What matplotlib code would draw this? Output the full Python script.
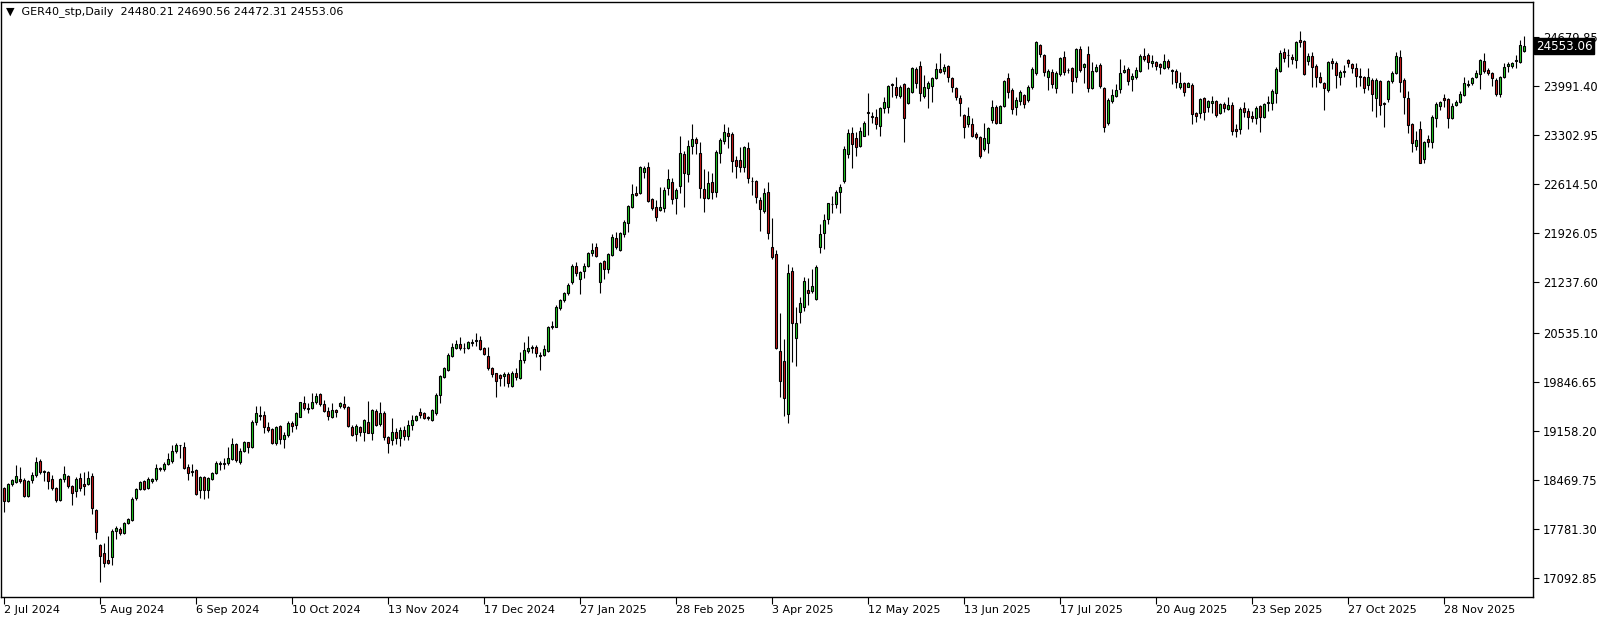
import matplotlib
matplotlib.use("Agg")
import matplotlib.pyplot as plt
import matplotlib.transforms as mtransforms
import numpy as np

symbol_title = "GER40_stp,Daily"

date_labels = ["2 Jul 2024", "5 Aug 2024", "6 Sep 2024", "10 Oct 2024", "13 Nov 2024",
               "17 Dec 2024", "27 Jan 2025", "28 Feb 2025", "3 Apr 2025", "12 May 2025",
               "13 Jun 2025", "17 Jul 2025", "20 Aug 2025", "23 Sep 2025", "27 Oct 2025",
               "28 Nov 2025"]
date_label_bars = [0, 24, 48, 72, 96, 120, 144, 168, 192, 216, 240, 264, 288, 312, 336, 360]

price_ticks = [24679.85, 23991.40, 23302.95, 22614.50, 21926.05, 21237.60,
               20535.10, 19846.65, 19158.20, 18469.75, 17781.30, 17092.85]

opens = [
18353,18166,18409,18446,18479,18469,18245,18469,18540,18736,18577,18586,18479,18357,18189,18488,
18526,18385,18311,18493,18413,18409,18526,18049,17553,17441,17347,17394,17745,17782,17717,17862,
17913,18208,18348,18455,18353,18460,18479,18633,18619,18694,18727,18867,18960,18928,18647,18596,
18610,18320,18516,18329,18479,18563,18689,18698,18703,18764,18970,18726,18876,18998,18923,19287,
19381,19381,19208,19185,18983,19227,19040,19100,19264,19241,19357,19544,19474,19474,19559,19675,
19530,19437,19357,19442,19498,19530,19488,19208,19110,19208,19147,19287,19124,19428,19250,19404,
19068,19028,19141,19057,19169,19085,19239,19310,19427,19403,19347,19310,19413,19661,19908,20011,
20212,20324,20376,20315,20315,20395,20418,20432,20315,20208,20035,19964,19941,19932,19955,19792,
19964,19904,20151,20278,20320,20339,20217,20222,20282,20614,20619,20876,20990,21090,21240,21469,
21282,21404,21469,21647,21731,21249,21539,21422,21623,21857,21694,21918,22077,22301,22498,22498,
22792,22862,22404,22301,22254,22287,22558,22642,22418,22596,23040,22755,23157,23246,23049,22544,
22428,22642,22512,23049,23227,23339,23316,22956,22956,22862,23119,22666,22661,22395,22245,22502,
21730,21632,20276,20136,19388,21403,20463,20819,20889,21132,21122,21006,21730,21927,22123,22343,
22333,22502,22665,23034,23329,23259,23156,23296,23624,23567,23553,23436,23680,23694,24021,23974,
23857,24016,23750,23913,24227,24273,23857,23969,23998,24100,24227,24208,24273,24100,23960,23820,
23586,23455,23455,23315,23273,23104,23188,23516,23693,23478,23712,24100,23937,23693,23787,23866,
23796,23974,24180,24568,24427,24114,24194,23960,24156,24395,24222,24240,24114,24512,24254,24437,
23960,24208,24287,23960,23469,23787,23852,23946,24194,24226,24086,24114,24208,24413,24427,24320,
24325,24296,24240,24343,24212,24203,23983,24039,23983,24007,23619,23609,23829,23693,23759,23782,
23609,23740,23670,23726,23390,23385,23679,23642,23572,23539,23712,23553,23749,23749,23890,24208,
24465,24432,24395,24357,24638,24624,24348,24413,24273,24124,24039,23937,24343,24310,24114,24189,
24357,24301,24240,24128,24124,24007,24077,23820,24063,23754,23806,24067,24170,24404,24077,23820,
23455,23156,23385,22964,23245,23212,23549,23717,23820,23810,23539,23726,23764,23866,24007,24030,
24114,24156,24343,24217,24170,24077,23880,24114,24273,24278,24348,24334,24480.21]

highs = [
18376,18423,18479,18680,18656,18493,18469,18586,18787,18759,18610,18596,18540,18376,18493,18666,
18540,18399,18507,18572,18586,18596,18572,18058,17567,17581,17684,17778,17824,17806,17885,17941,
18222,18362,18455,18469,18507,18493,18694,18656,18713,18844,18960,18984,18962,19007,18689,18689,
18619,18525,18525,18507,18586,18740,18740,18773,18937,19054,18984,18913,19021,19007,19311,19507,
19507,19428,19287,19194,19227,19241,19147,19297,19297,19414,19568,19647,19544,19685,19685,19694,
19591,19488,19554,19460,19563,19647,19507,19241,19250,19227,19320,19577,19460,19460,19559,19428,
19086,19337,19197,19209,19225,19309,19379,19380,19474,19427,19366,19460,19684,19941,20058,20245,
20385,20432,20469,20395,20423,20441,20526,20488,20339,20339,20058,19974,19955,19988,19988,20002,
20035,20268,20409,20488,20362,20362,20268,20362,20628,20703,20923,21000,21110,21230,21497,21521,
21399,21507,21661,21787,21787,21530,21549,21656,21918,21941,21941,22114,22325,22619,22591,22872,
22872,22923,22418,22395,22572,22572,22825,22699,22558,23292,23087,23236,23461,23274,23204,22825,
22802,22769,23096,23260,23461,23414,23344,23017,23133,23152,23204,22722,22675,22442,22558,22652,
22137,21693,20804,20440,21496,21450,20898,21038,21309,21305,21422,21478,22057,22198,22357,22455,
22534,22618,23151,23390,23413,23343,23413,23502,23899,23633,23670,23703,23843,24007,24040,24114,
24007,24030,23984,24264,24255,24343,24147,24068,24114,24320,24451,24301,24287,24114,23984,23867,
23600,23703,23549,23352,23291,23469,23422,23796,23726,23726,24077,24170,23960,23843,23937,23880,
24007,24264,24624,24582,24437,24226,24226,24203,24404,24488,24240,24254,24521,24554,24320,24554,
24334,24301,24310,23983,23820,23946,24021,24367,24287,24264,24180,24254,24437,24521,24451,24427,
24343,24320,24441,24367,24226,24226,24194,24053,24053,24030,23633,23820,23843,23796,23852,23796,
23750,23773,23843,23773,23460,23693,23773,23679,23647,23712,23726,23759,23852,23946,24264,24498,
24521,24507,24437,24628,24764,24638,24460,24474,24301,24194,24053,24348,24381,24348,24217,24287,
24367,24320,24310,24240,24133,24240,24100,24100,24077,23773,24077,24203,24474,24498,24100,23923,
23478,23366,23506,23221,23305,23586,23773,23782,23880,23820,23749,23796,23927,24124,24077,24124,
24217,24367,24451,24240,24194,24100,24133,24320,24334,24334,24427,24638,24690.56]

lows = [
18025,18152,18390,18423,18432,18226,18226,18423,18507,18549,18460,18343,18329,18152,18166,18446,
18353,18110,18226,18306,18259,18395,17988,17637,17030,17245,17291,17277,17637,17689,17712,17852,
17899,18189,18329,18329,18343,18423,18460,18600,18600,18680,18703,18844,18773,18619,18469,18526,
18259,18212,18198,18212,18469,18553,18609,18619,18680,18750,18726,18689,18853,18843,18913,19241,
19311,19124,19147,18974,18955,18974,18913,19077,19147,19180,19348,19451,19404,19460,19535,19507,
19414,19311,19334,19357,19474,19460,19217,19086,19016,19091,19021,19124,19030,19227,19227,19030,
18843,18958,18972,18944,19028,19028,19169,19301,19333,19319,19310,19301,19380,19553,19894,19997,
20198,20301,20292,20254,20301,20353,20353,20292,20222,20011,19918,19637,19787,19787,19768,19778,
19871,19890,20105,20245,20245,20189,20011,20208,20268,20582,20610,20850,20960,21060,21212,21334,
21072,21296,21460,21614,21591,21086,21282,21376,21609,21703,21684,21871,21951,22287,22451,22479,
22699,22371,22254,22105,22245,22231,22465,22339,22194,22498,22301,22652,23035,23035,22428,22222,
22404,22404,22442,22909,23175,23119,22792,22699,22792,22792,22638,22465,22357,21965,22208,21843,
21562,20300,19626,19365,19271,20127,20071,20674,20842,20921,21085,20992,21655,21707,22057,22216,
22286,22216,22637,22988,22838,23016,23142,23292,23306,23479,23385,23296,23610,23619,23843,23820,
23829,23212,23740,23899,23969,23782,23820,23689,23773,24086,24171,24161,24054,23913,23797,23572,
23259,23422,23282,23245,22988,23086,23058,23469,23460,23469,23693,23820,23600,23586,23726,23679,
23764,23946,24147,24404,24133,23937,23960,23899,24133,24147,24170,23899,24044,24194,24039,23913,
23946,24184,23960,23352,23446,23759,23843,23890,24170,24007,23927,24086,24194,24348,24226,24264,
24217,24156,24226,24226,24016,23960,23946,23857,23974,23460,23492,23539,23516,23623,23619,23553,
23600,23633,23656,23305,23273,23319,23562,23390,23492,23460,23352,23539,23642,23656,23749,24194,
24325,24254,24301,24250,24535,24147,24287,23974,23983,24030,23656,23913,24230,23960,24007,24124,
24254,24170,23983,23993,23890,23937,23647,23562,23586,23422,23773,24039,24161,23913,23595,23329,
23072,23095,22908,22908,23142,23118,23422,23656,23693,23408,23525,23717,23759,23852,23974,24007,
24100,23946,24170,24147,23993,23857,23834,24100,24184,24240,24240,24310,24472.31]

closes = [
18166,18409,18469,18526,18460,18245,18455,18540,18717,18577,18596,18460,18353,18180,18479,18554,
18385,18282,18484,18353,18385,18493,18072,17731,17408,17310,17310,17754,17796,17717,17862,17923,
18203,18343,18437,18343,18484,18479,18633,18619,18694,18759,18876,18960,18955,18633,18563,18582,
18268,18507,18320,18493,18563,18703,18703,18708,18773,18970,18750,18876,18998,18923,19287,19404,
19367,19208,19170,18983,19208,19040,19100,19273,19231,19404,19559,19474,19460,19559,19647,19530,
19428,19367,19442,19414,19544,19488,19231,19100,19231,19147,19311,19133,19451,19241,19404,19077,
18993,19141,19057,19169,19085,19239,19309,19366,19380,19333,19338,19450,19661,19927,20035,20222,
20329,20376,20315,20324,20404,20404,20427,20301,20236,20035,19955,19862,19894,19950,19834,19964,
19908,20151,20292,20324,20329,20245,20208,20301,20610,20624,20899,20990,21090,21200,21469,21366,
21380,21469,21647,21694,21614,21507,21422,21637,21871,21731,21927,22082,22311,22474,22465,22853,
22839,22385,22287,22161,22301,22535,22685,22404,22535,23049,22769,23152,23246,23189,22568,22418,
22629,22502,23063,23236,23344,23297,22946,22876,22862,23133,22699,22657,22442,22264,22488,21937,
21590,20314,19860,19622,21365,20664,20664,20945,21258,21094,21188,21450,21917,22109,22347,22333,
22506,22581,23109,23329,23175,23142,23362,23469,23614,23558,23455,23680,23764,23993,24012,23867,
23984,23549,23960,24241,24030,23899,23974,24030,24100,24227,24194,24264,24114,23974,23834,23750,
23413,23572,23296,23282,23011,23259,23399,23693,23478,23712,24063,23913,23670,23796,23913,23740,
23974,24231,24605,24437,24194,24203,24016,24180,24381,24184,24212,24067,24512,24217,24296,23960,
24203,24264,23993,23422,23796,23866,23937,24170,24217,24067,24133,24217,24413,24367,24334,24343,
24278,24254,24343,24254,24203,24044,24030,23913,24030,23595,23572,23806,23633,23782,23782,23586,
23740,23689,23726,23366,23366,23670,23633,23562,23539,23689,23553,23740,23773,23923,24226,24460,
24381,24423,24367,24614,24605,24156,24413,24264,24124,24044,23960,24325,24310,24147,24194,24198,
24310,24240,24133,24119,23960,24124,23876,24077,23726,23745,24063,24170,24418,24053,23834,23446,
23189,23235,22917,23203,23212,23562,23740,23773,23796,23539,23712,23773,23880,24030,24021,24100,
24180,24357,24208,24170,24100,23876,24114,24254,24301,24320,24357,24568,24553.06]

bull_color = "#22D022"
bear_color = "#D01818"

W, H = 1604, 620
fig = plt.figure(figsize=(W / 100, H / 100), dpi=100)
fig.patch.set_facecolor("white")
left_px, right_px, top_px, bottom_px = 1, 1533, 2, 597
ax = fig.add_axes([left_px / W, 1 - bottom_px / H, (right_px - left_px) / W, (bottom_px - top_px) / H])

o = np.array(opens, dtype=float)
h = np.array(highs, dtype=float)
l = np.array(lows, dtype=float)
c = np.array(closes, dtype=float)
x = np.arange(len(o))
up = c >= o
cols = np.where(up, bull_color, bear_color)

ax.vlines(x, l, h, color="black", linewidth=0.8, zorder=2)
ax.bar(x, np.abs(c - o), bottom=np.minimum(o, c), width=0.52, color=cols,
       edgecolor="black", linewidth=0.8, zorder=3)

# y scale: tick 24679.85 at px 37, 17092.85 at px 578
s = (price_ticks[0] - price_ticks[-1]) / (578 - 37)
ytop = price_ticks[0] + (37 - top_px) * s
ybot = price_ticks[0] - (bottom_px - 37) * s
ax.set_ylim(ybot, ytop)
ax.set_xlim((left_px - 3.6) / 4, (right_px - 3.6) / 4)

ax.yaxis.tick_right()
ax.set_yticks(price_ticks)
ax.set_yticklabels([f"{v:.2f}" for v in price_ticks])
ax.tick_params(axis="y", direction="out", length=4, width=0.8, pad=3, labelsize=8.3,
               colors="black")
ax.set_xticks(date_label_bars)
ax.set_xticklabels(date_labels)
ax.tick_params(axis="x", direction="out", length=5, width=0.8, pad=1, labelsize=8,
               colors="black")
for lbl in ax.get_xticklabels():
    lbl.set_horizontalalignment("left")

for sp in ax.spines.values():
    sp.set_color("black")
    sp.set_linewidth(1.0)

title = (f"\u25BC  {symbol_title}  {opens[-1]:.2f} {highs[-1]:.2f} "
         f"{lows[-1]:.2f} {closes[-1]:.2f}")
fig.text(6 / W, 1 - 12 / H, title, fontsize=8.0, va="center", ha="left", color="black")

trans = mtransforms.blended_transform_factory(ax.transAxes, ax.transData)
ax.text(1.0 + 3 / (right_px - left_px), closes[-1], f"{closes[-1]:.2f}", transform=trans,
        color="white", fontsize=8.6, va="center", ha="left", clip_on=False, zorder=10,
        bbox=dict(boxstyle="square,pad=0.15", facecolor="black", edgecolor="black"))

fig.savefig("out.png", dpi=100, facecolor="white")
